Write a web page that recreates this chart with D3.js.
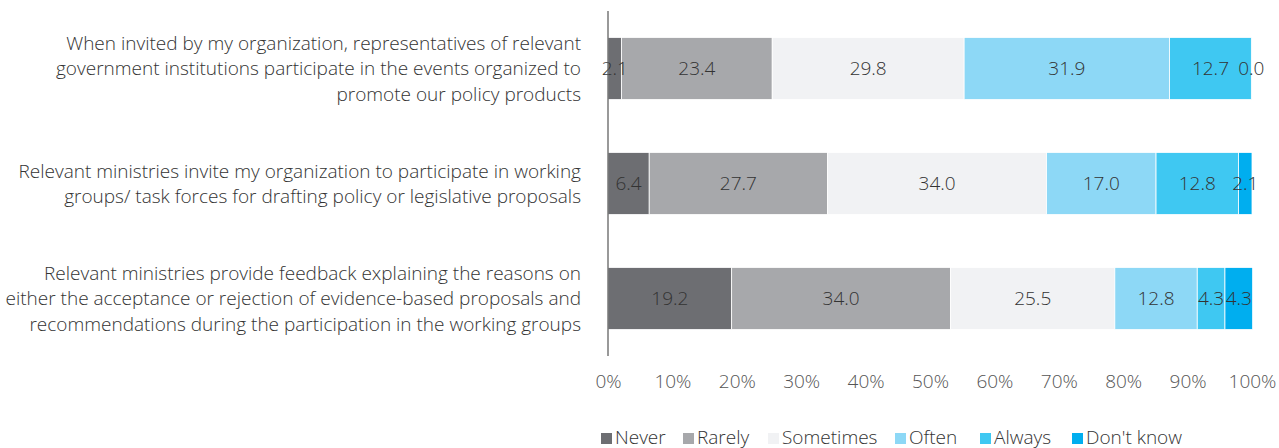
<!DOCTYPE html>
<html>
<head>
<meta charset="utf-8">
<script src="https://cdn.jsdelivr.net/npm/d3@7"></script>
<style>
  html, body { margin: 0; padding: 0; background: #fff; }
  svg { display: block; font-family: "Open Sans", "Noto Sans", sans-serif; font-weight: 300; }
</style>
</head>
<body>
<svg id="chart" width="1279" height="448"></svg>
<script>
// Survey statements (each label line is a separate string)
const categories = [
  ["When invited by my organization, representatives of relevant",
   "government institutions participate in the events organized to",
   "promote our policy products"],
  ["Relevant ministries invite my organization to participate in working",
   "groups/ task forces for drafting policy or legislative proposals"],
  ["Relevant ministries provide feedback explaining the reasons on",
   "either the acceptance or rejection of evidence-based proposals and",
   "recommendations during the participation in the working groups"]
];
const seriesNames = ["Never", "Rarely", "Sometimes", "Often", "Always", "Don't know"];
const never     = [2.1, 6.4, 19.2];
const rarely    = [23.4, 27.7, 34.0];
const sometimes = [29.8, 34.0, 25.5];
const often     = [31.9, 17.0, 12.8];
const always    = [12.7, 12.8, 4.3];
const dontKnow  = [0.0, 2.1, 4.3];
const tickValues = [0, 10, 20, 30, 40, 50, 60, 70, 80, 90, 100];

const seriesValues = [never, rarely, sometimes, often, always, dontKnow];
const colors = ["#6d6e72", "#a7a8ab", "#f1f2f4", "#8dd8f6", "#3fc8f2", "#00aeef"];

const svg = d3.select("#chart");
const plotLeft = 608, plotRight = 1252, plotTop = 11, plotBottom = 356;
const textColor = "#333333";
const fontSize = 19;

const x = d3.scaleLinear().domain([0, 100]).range([plotLeft, plotRight]);
const y = d3.scaleBand().domain(d3.range(categories.length)).range([plotTop, plotBottom]).paddingInner(0.46).paddingOuter(0.23);

// Build stacked rows from the series arrays
const rows = categories.map((c, i) => {
  const r = { idx: i };
  seriesNames.forEach((s, k) => r[s] = seriesValues[k][i]);
  return r;
});
const stack = d3.stack().keys(seriesNames)(rows);
const color = d3.scaleOrdinal().domain(seriesNames).range(colors);

// Bar segments
svg.append("g").selectAll("g").data(stack).join("g")
  .attr("fill", d => color(d.key))
  .selectAll("rect").data(d => d).join("rect")
  .attr("x", d => x(d[0]))
  .attr("y", d => y(d.data.idx))
  .attr("width", d => x(d[1]) - x(d[0]))
  .attr("height", y.bandwidth())
  .attr("stroke", "#ffffff")
  .attr("stroke-width", 0.8);

// Value labels centred on each segment, drawn above all bars
const labelData = stack.flatMap(layer => layer.map(v => ({ v, key: layer.key })));
svg.append("g").selectAll("text").data(labelData).join("text")
  .attr("x", d => (x(d.v[0]) + x(d.v[1])) / 2)
  .attr("y", d => y(d.v.data.idx) + y.bandwidth() / 2)
  .attr("dy", "0.36em")
  .attr("text-anchor", "middle")
  .attr("fill", textColor)
  .attr("font-size", fontSize)
  .text(d => d.v.data[d.key].toFixed(1));

// Category labels
const catG = svg.append("g");
categories.forEach((lines, i) => {
  const cy = y(i) + y.bandwidth() / 2;
  const lh = 25.5;
  const t = catG.append("text")
    .attr("text-anchor", "end")
    .attr("fill", textColor)
    .attr("font-size", fontSize);
  lines.forEach((ln, j) => {
    t.append("tspan")
      .attr("x", 581)
      .attr("y", cy + (j - (lines.length - 1) / 2) * lh)
      .attr("dy", "0.36em")
      .text(ln);
  });
});

// Horizontal percent axis (labels only)
const xAxis = d3.axisBottom(x).tickValues(tickValues).tickFormat(d => d + "%").tickSize(0).tickPadding(0);
const ax = svg.append("g").attr("transform", `translate(0,${plotBottom + 18})`).call(xAxis);
ax.select(".domain").remove();
ax.selectAll("text")
  .attr("font-size", fontSize)
  .attr("font-family", "\"Open Sans\", sans-serif")
  .attr("fill", "#555");

// Vertical baseline
svg.append("line")
  .attr("x1", plotLeft).attr("x2", plotLeft)
  .attr("y1", plotTop).attr("y2", plotBottom)
  .attr("stroke", "#555").attr("stroke-width", 1.2);

// Legend
const legendX = [601, 683, 768, 895, 980, 1072];
const lg = svg.append("g").selectAll("g").data(seriesNames).join("g")
  .attr("transform", (d, i) => `translate(${legendX[i]},0)`);
lg.append("rect").attr("x", 0).attr("y", 433).attr("width", 11).attr("height", 11)
  .attr("fill", d => color(d));
lg.append("text").attr("x", 14).attr("y", 443.5)
  .attr("fill", textColor).attr("font-size", fontSize)
  .text(d => d);
</script>
</body>
</html>
